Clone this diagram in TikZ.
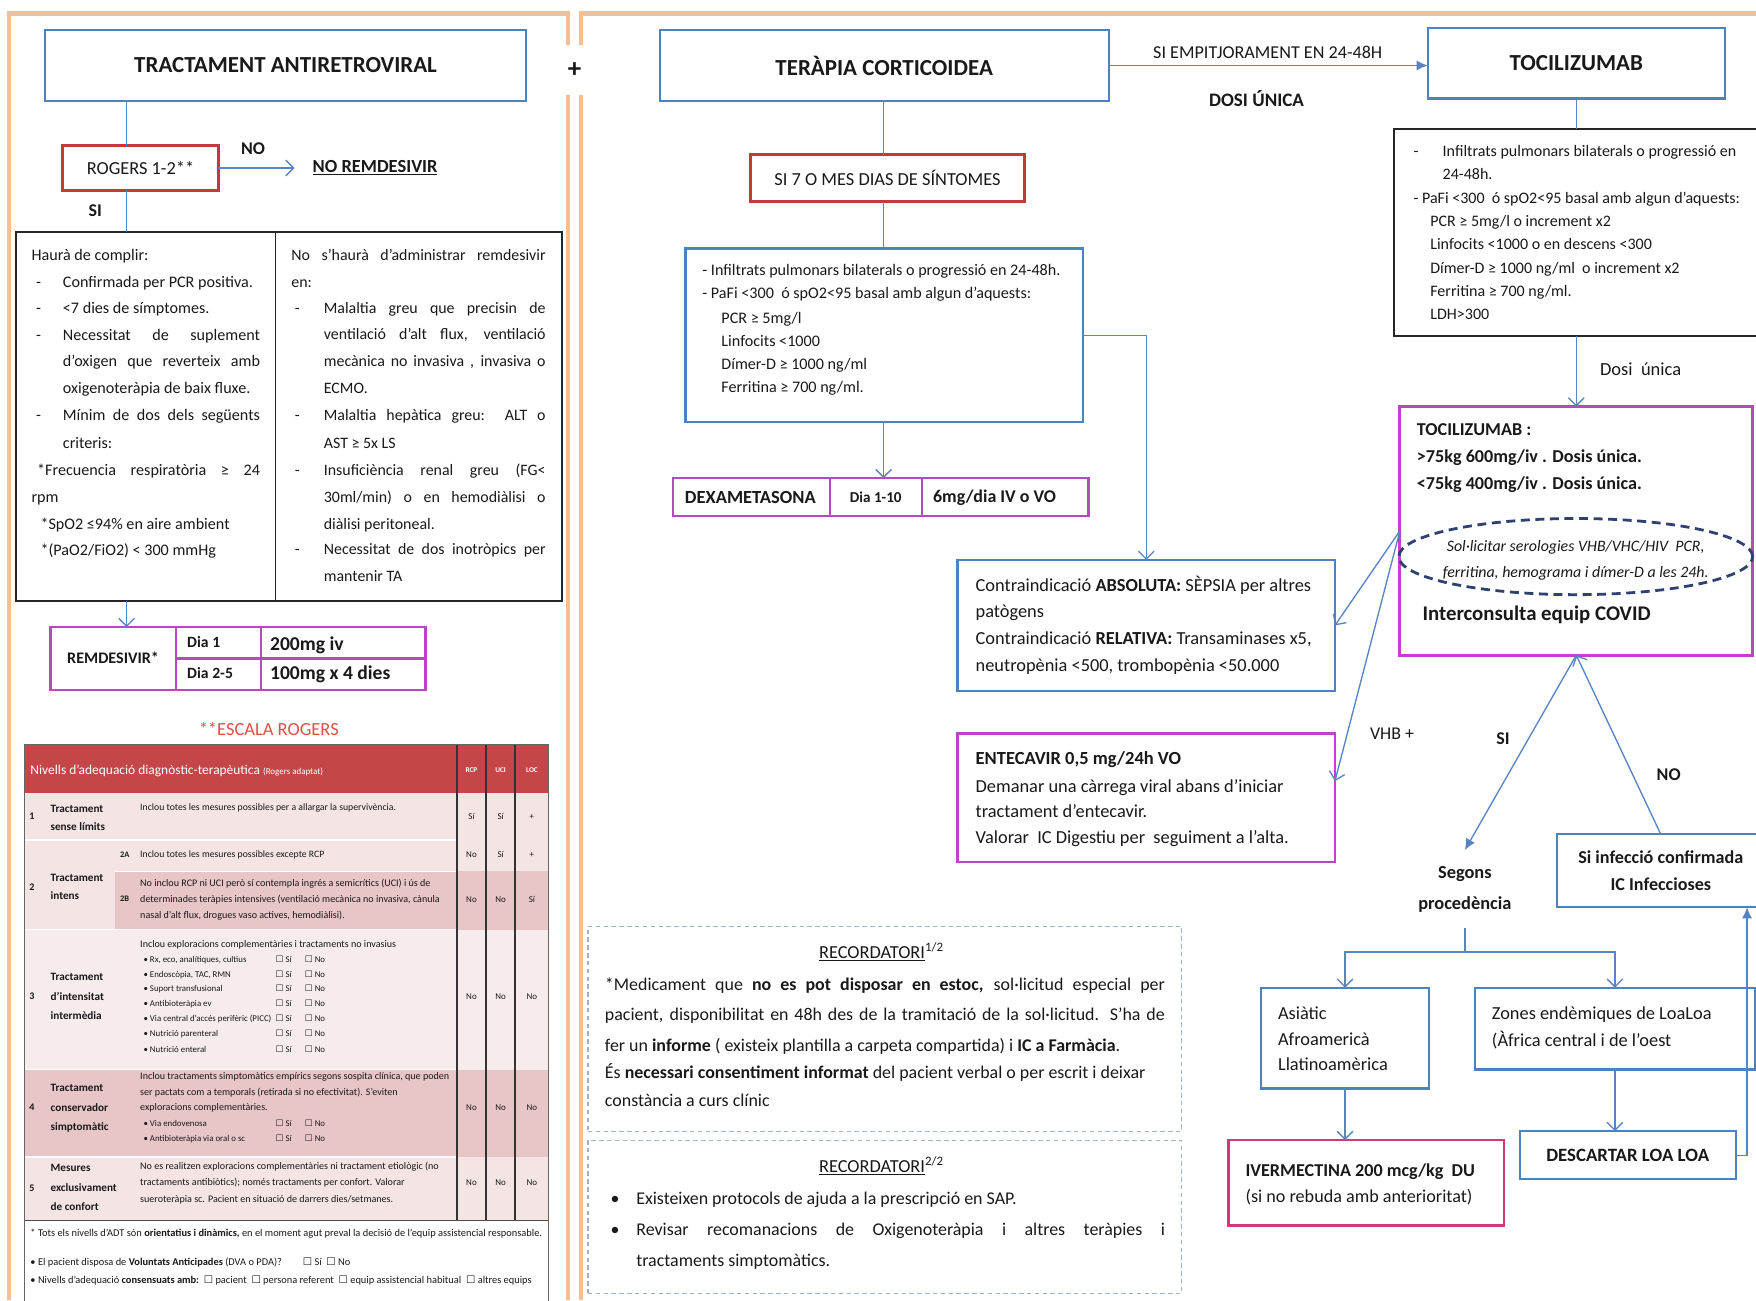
\documentclass[tikz,border=0pt]{standalone}
\usepackage{fontspec}
\setmainfont{Carlito}
\newfontfamily\djv{DejaVu Sans}
\usetikzlibrary{arrows.meta,shapes.geometric,calc}
\definecolor{bblue}{RGB}{79,129,189}
\definecolor{lblue}{RGB}{88,132,196}
\definecolor{rred}{RGB}{192,58,58}
\definecolor{mag}{RGB}{186,70,196}
\definecolor{ivm}{RGB}{205,60,120}
\definecolor{orng}{RGB}{247,190,145}
\definecolor{navy}{RGB}{47,65,110}
\definecolor{hdr}{RGB}{196,70,72}
\definecolor{rowa}{RGB}{244,228,228}
\definecolor{rowb}{RGB}{232,198,200}
\definecolor{rowc}{RGB}{247,236,236}
\definecolor{txtc}{RGB}{25,25,25}
\definecolor{dashgray}{RGB}{165,175,195}
\definecolor{esc}{RGB}{222,80,70}
\newcounter{nn}
\newcommand\TxL[4]{\stepcounter{nn}\node[anchor=base west,inner sep=0,text=txtc,font=\fontsize{#3}{#3}\selectfont] (t\thenn) at (#1,{#2+0.32*#3}) {#4};}
\newcommand\TxC[4]{\stepcounter{nn}\node[anchor=base,inner sep=0,text=txtc,font=\fontsize{#3}{#3}\selectfont] (t\thenn) at (#1,{#2+0.32*#3}) {#4};}
\newcommand\TxJ[5]{\stepcounter{nn}\node[anchor=base west,inner sep=0,text=txtc,font=\fontsize{#3}{#3}\selectfont] (t\thenn) at (#1,{#2+0.32*#3}) {\makebox[#4pt][s]{#5}};}
\newcommand\mkbox[7]{\node[#1, minimum width={#5-#3}, minimum height={#6-#4}] (#2) at (#3,#4) {#7};}
\newcommand\cbx{{\djv ☐}}
\newcommand\SiNo[1]{\TxL{246}{#1}{7.9}{\cbx\ Sí}\TxL{272}{#1}{7.9}{\cbx\ No}}
\tikzset{
 bx/.style={inner sep=0, outer sep=0, anchor=north west, text=txtc, align=center},
 bbox/.style={bx, draw=bblue, line width=2},
 rbox/.style={bx, draw=rred, line width=3},
 mbox/.style={bx, draw=mag, line width=2},
 ibox/.style={bx, draw=ivm, line width=2.5},
 kbox/.style={bx, draw=black!85, line width=1.6},
 dbox/.style={bx, draw=dashgray, line width=1, dash pattern=on 4pt off 3pt},
 conn/.style={draw=lblue, line width=1.2},
 arr/.style={conn, -{Straight Barb[length=7pt,width=14pt]}},
 farr/.style={conn, -{Latex[length=10pt,width=9pt]}},
 ttl/.style={font=\bfseries\fontsize{20.5}{20.5}\selectfont},
 lbl/.style={text=txtc, font=\bfseries\fontsize{16}{16}\selectfont},
}
\begin{document}
\begin{tikzpicture}[x=1pt,y=-1pt]
\useasboundingbox (0,0) rectangle (1568,1161);
\fill[white] (0,0) rectangle (1568,1161);
% orange frames
\draw[orng, line width=4] (8,1161) -- (8,12) -- (507,12) -- (507,40);
\draw[orng, line width=4] (507,85) -- (507,1161);
\draw[orng, line width=4] (519,40) -- (519,12) -- (1568,12);
\draw[orng, line width=4] (519,85) -- (519,1161);
\node[font=\bfseries\fontsize{24}{24}\selectfont, text=txtc] (plus) at (513,63) {+};

% ===== LEFT PANEL =====
\mkbox{bbox,ttl}{tract}{40}{27}{470}{90}{TRACTAMENT ANTIRETROVIRAL}
\mkbox{rbox,font=\fontsize{16.4}{16.4}\selectfont}{rogers}{56}{130}{195}{170}{ROGERS 1-2**}
\node[anchor=west, inner sep=0, text=txtc, font=\bfseries\fontsize{16.5}{16.5}\selectfont] (noremd) at (279,150) {\underline{NO REMDESIVIR}};
\node[lbl] (nolab) at (226,133) {NO};
\node[lbl] (silab) at (85,188) {SI};
\mkbox{kbox}{crit}{14}{207}{502}{537}{}
\coordinate (rs) at (113,0);
\coordinate (dv) at (246,0);
\draw[black!85, line width=1.6] (crit.north -| dv) -- (crit.south -| dv);
\draw[conn] (tract.south -| rs) -- (rogers.north -| rs);
\draw[conn] (rogers.south -| rs) -- (crit.north -| rs);
\draw[arr] (rogers.east) -- ([xshift=-16pt]noremd.west);

% left column
\TxL{28}{228}{14.4}{Haurà de complir:}
\TxL{32}{252}{14.4}{-}\TxL{56}{252}{14.4}{Confirmada per PCR positiva.}
\TxL{32}{275}{14.4}{-}\TxL{56}{275}{14.4}{<7 dies de símptomes.}
\TxL{32}{299}{14.4}{-}\TxJ{56}{299}{14.4}{176}{Necessitat de suplement}
\TxJ{56}{323}{14.4}{176}{d’oxigen que reverteix amb}
\TxL{56}{347}{14.4}{oxigenoteràpia de baix fluxe.}
\TxL{32}{371}{14.4}{-}\TxJ{56}{371}{14.4}{176}{Mínim de dos dels següents}
\TxL{56}{396}{14.4}{criteris:}
\TxJ{33}{420}{14.4}{199}{*Frecuencia respiratòria ≥ 24}
\TxL{28}{444}{14.4}{rpm}
\TxL{36}{468}{14.4}{*SpO2 ≤94\% en aire ambient}
\TxL{36}{491}{14.4}{*(PaO2/FiO2) < 300 mmHg}
% right column
\TxJ{260}{228}{14.2}{227}{No s’haurà d’administrar remdesivir}
\TxL{260}{252}{14.2}{en:}
\TxL{263}{275}{14.2}{-}\TxJ{289}{275}{14.2}{198}{Malaltia greu que precisin de}
\TxJ{289}{299}{14.2}{198}{ventilació d’alt flux, ventilació}
\TxJ{289}{323}{14.2}{198}{mecànica no invasiva , invasiva o}
\TxL{289}{347}{14.2}{ECMO.}
\TxL{263}{371}{14.2}{-}\TxJ{289}{371}{14.2}{198}{Malaltia hepàtica greu:\ \ ALT o}
\TxL{289}{396}{14.2}{AST ≥ 5x LS}
\TxL{263}{420}{14.2}{-}\TxJ{289}{420}{14.2}{198}{Insuficiència renal greu (FG<}
\TxJ{289}{444}{14.2}{198}{30ml/min) o en hemodiàlisi o}
\TxL{289}{468}{14.2}{diàlisi peritoneal.}
\TxL{263}{491}{14.2}{-}\TxJ{289}{491}{14.2}{198}{Necessitat de dos inotròpics per}
\TxL{289}{515}{14.2}{mantenir TA}

% remdesivir table
\mkbox{mbox}{remd}{45}{560}{380}{616}{}
\draw[arr] (crit.south -| rs) -- (remd.north -| rs);
\draw[mag, line width=2] (157,560) -- (157,616) (233,560) -- (233,616) (157,588) -- (380,588);
\TxC{101}{588}{14.4}{\bfseries REMDESIVIR*}
\TxL{167}{574}{14}{\bfseries Dia 1}
\TxL{167}{601}{14}{\bfseries Dia 2-5}
\TxL{241}{575}{17.5}{\bfseries 200mg iv}
\TxL{241}{601}{17.5}{\bfseries 100mg x 4 dies}
\node[text=esc, font=\fontsize{16.5}{16.5}\selectfont] (escala) at (240,651) {**ESCALA ROGERS};

% Rogers table
\fill[hdr] (22,665) rectangle (490,708);
\fill[rowa] (22,708) rectangle (490,750);
\fill[rowa] (22,750) rectangle (490,778);
\fill[rowa] (22,778) rectangle (103,830);
\fill[rowb] (103,778) rectangle (490,830);
\fill[rowc] (22,830) rectangle (490,955);
\fill[rowb] (22,955) rectangle (490,1033);
\fill[rowa] (22,1033) rectangle (490,1090);
\draw[white, line width=1.2] (22,750) -- (408,750) (103,778) -- (408,778) (22,830) -- (408,830) (22,955) -- (408,955) (22,1033) -- (408,1033);
\draw[black!80, line width=1.6] (408,665) -- (408,1090) (434,665) -- (434,1090) (460,665) -- (460,1090);
\draw[black!70, line width=1] (22,1090) -- (490,1090);
\draw[black!60, line width=0.9] (22,665) rectangle (490,1180);
\node[anchor=base west, inner sep=0, text=white, font=\fontsize{12}{12}\selectfont] (hdrt) at (27,692) {Nivells d’adequació diagnòstic-terapèutica {\fontsize{8}{8}\selectfont (Rogers adaptat)}};
\node[text=white, font=\bfseries\fontsize{6.5}{6.5}\selectfont] (hrcp) at (421,688) {RCP};
\node[text=white, font=\bfseries\fontsize{6.5}{6.5}\selectfont] (huci) at (447,688) {UCI};
\node[text=white, font=\bfseries\fontsize{6.5}{6.5}\selectfont] (hloc) at (475,688) {LOC};
% row 1
\TxL{26}{729}{9}{\bfseries 1}
\TxL{45}{722}{10}{\bfseries Tractament}\TxL{45}{738}{10}{\bfseries sense límits}
\TxL{125}{721}{8.7}{Inclou totes les mesures possibles per a allargar la supervivència.}
\TxC{421}{729}{8}{Sí}\TxC{447}{729}{8}{Sí}\TxC{475}{729}{8}{+}
% row 2
\TxL{26}{792}{9}{\bfseries 2}
\TxL{45}{784}{10}{\bfseries Tractament}\TxL{45}{800}{10}{\bfseries intens}
\TxL{107}{763}{7.5}{\bfseries 2A}\TxL{125}{763}{8.7}{Inclou totes les mesures possibles excepte RCP}
\TxC{421}{763}{8}{No}\TxC{447}{763}{8}{Sí}\TxC{475}{763}{8}{+}
\TxL{107}{803}{7.5}{\bfseries 2B}
\TxL{125}{789}{9}{No inclou RCP ni UCI però sí contempla ingrés a semicrítics (UCI) i ús de}
\TxL{125}{803}{9}{determinades teràpies intensives (ventilació mecànica no invasiva, cànula}
\TxL{125}{817}{9}{nasal d’alt flux, drogues vaso actives, hemodiàlisi).}
\TxC{421}{803}{8}{No}\TxC{447}{803}{8}{No}\TxC{475}{803}{8}{Sí}
% row 3
\TxL{26}{890}{9}{\bfseries 3}
\TxL{45}{872}{10}{\bfseries Tractament}\TxL{45}{890}{10}{\bfseries d’intensitat}\TxL{45}{907}{10}{\bfseries intermèdia}
\TxL{125}{843}{9}{Inclou exploracions complementàries i tractaments no invasius}
\TxL{128}{857}{7.9}{• Rx, eco, analítiques, cultius}\SiNo{857}
\TxL{128}{870}{7.9}{• Endoscòpia, TAC, RMN}\SiNo{870}
\TxL{128}{883}{7.9}{• Suport transfusional}\SiNo{883}
\TxL{128}{896}{7.9}{• Antibioteràpia ev}\SiNo{896}
\TxL{128}{910}{7.9}{• Via central d’accés perifèric (PICC)}\SiNo{910}
\TxL{128}{923}{7.9}{• Nutrició parenteral}\SiNo{923}
\TxL{128}{937}{7.9}{• Nutrició enteral}\SiNo{937}
\TxC{421}{890}{8}{No}\TxC{447}{890}{8}{No}\TxC{475}{890}{8}{No}
% row 4
\TxL{26}{989}{9}{\bfseries 4}
\TxL{45}{971}{10}{\bfseries Tractament}\TxL{45}{989}{10}{\bfseries conservador}\TxL{45}{1006}{10}{\bfseries simptomàtic}
\TxL{125}{961}{9}{Inclou tractaments simptomàtics empírics segons sospita clínica, que poden}
\TxL{125}{975}{9}{ser pactats com a temporals (retirada si no efectivitat). S’eviten}
\TxL{125}{989}{9}{exploracions complementàries.}
\TxL{128}{1003}{7.9}{• Via endovenosa}\SiNo{1003}
\TxL{128}{1017}{7.9}{• Antibioteràpia via oral o sc}\SiNo{1017}
\TxC{421}{989}{8}{No}\TxC{447}{989}{8}{No}\TxC{475}{989}{8}{No}
% row 5
\TxL{26}{1061}{9}{\bfseries 5}
\TxL{45}{1043}{10}{\bfseries Mesures}\TxL{45}{1061}{10}{\bfseries exclusivament}\TxL{45}{1078}{10}{\bfseries de confort}
\TxL{125}{1041}{9}{No es realitzen exploracions complementàries ni tractament etiològic (no}
\TxL{125}{1056}{9}{tractaments antibiòtics); només tractaments per confort. Valorar}
\TxL{125}{1071}{9}{sueroteràpia sc. Pacient en situació de darrers dies/setmanes.}
\TxC{421}{1056}{8}{No}\TxC{447}{1056}{8}{No}\TxC{475}{1056}{8}{No}
% footer
\TxL{27}{1101}{9.3}{* Tots els nivells d’ADT són \textbf{orientatius i dinàmics,} en el moment agut preval la decisió de l’equip assistencial responsable.}
\TxL{27}{1127}{9.3}{• El pacient disposa de \textbf{Voluntats Anticipades} (DVA o PDA)?\qquad\cbx\ Sí\ \ \cbx\ No}
\TxL{27}{1143}{9.3}{• Nivells d’adequació \textbf{consensuats amb:}\ \ \cbx\ pacient\ \ \cbx\ persona referent\ \ \cbx\ equip assistencial habitual\ \ \cbx\ altres equips}

% ===== RIGHT PANEL =====
\mkbox{bbox,ttl}{cort}{589}{27}{990}{90}{TERÀPIA CORTICOIDEA}
\mkbox{bbox,ttl}{toci}{1275}{25}{1540}{88}{TOCILIZUMAB}
\draw[farr] (cort.east) -- (cort.east -| toci.west);
\node[text=txtc, font=\fontsize{16.2}{16.2}\selectfont] (empit) at (1132,47) {SI EMPITJORAMENT EN 24-48H};
\node[text=txtc, font=\bfseries\fontsize{17}{17}\selectfont] (dosiu) at (1122,88) {DOSI ÚNICA};

\coordinate (cx) at (789,0);
\mkbox{rbox,font=\fontsize{16.4}{16.4}\selectfont}{si7}{670}{138}{915}{180}{SI 7 O MES DIAS DE SÍNTOMES}
\draw[conn] (cort.south -| cx) -- (si7.north -| cx);
\mkbox{bbox}{inf1}{612}{222}{967}{377}{}
\draw[conn] (si7.south -| cx) -- (inf1.north -| cx);
\TxL{627}{241}{14.4}{- Infiltrats pulmonars bilaterals o progressió en 24-48h.}
\TxL{627}{262}{14.4}{- PaFi <300\ \ ó spO2<95 basal amb algun d’aquests:}
\TxL{644}{284}{14.4}{PCR ≥ 5mg/l}
\TxL{644}{305}{14.4}{Linfocits <1000}
\TxL{644}{325}{14.4}{Dímer-D ≥ 1000 ng/ml}
\TxL{644}{346}{14.4}{Ferritina ≥ 700 ng/ml.}

\mkbox{mbox}{dexa}{601}{427}{972}{461}{}
\draw[arr] (inf1.south -| cx) -- (dexa.north -| cx);
\draw[mag, line width=2] (741,427) -- (741,461) (823,427) -- (823,461);
\TxC{670}{444}{16.5}{\bfseries DEXAMETASONA}
\TxC{782}{444}{13.5}{\bfseries Dia 1-10}
\TxC{888}{444}{16}{\bfseries 6mg/dia IV o VO}

\mkbox{bbox}{contra}{855}{500}{1192}{617}{}
\draw[arr] (inf1.east) -| (contra.north);
\TxL{871}{523}{16.4}{Contraindicació \textbf{ABSOLUTA:} SÈPSIA per altres}
\TxL{871}{546}{16.4}{patògens}
\TxL{871}{570}{16.4}{Contraindicació \textbf{RELATIVA:} Transaminases x5,}
\TxL{871}{594}{16.4}{neutropènia <500, trombopènia <50.000}

\mkbox{mbox}{ente}{855}{655}{1192}{770}{}
\TxL{871}{677}{16.5}{\bfseries ENTECAVIR 0,5 mg/24h VO}
\TxL{871}{702}{16.4}{Demanar una càrrega viral abans d’iniciar}
\TxL{871}{725}{16.4}{tractament d’entecavir.}
\TxL{871}{748}{16.4}{Valorar\ \ IC Digestiu per\ \ seguiment a l’alta.}

\mkbox{kbox}{tc}{1245}{115}{1580}{300}{}
\draw[conn] (toci.south) -- (tc.north -| toci.south);
\TxL{1262}{135}{14.3}{-}\TxL{1288}{135}{14.3}{Infiltrats pulmonars bilaterals o progressió en}
\TxL{1288}{156}{14.3}{24-48h.}
\TxL{1262}{177}{14.3}{- PaFi <300\ \ ó spO2<95 basal amb algun d’aquests:}
\TxL{1277}{198}{14.3}{PCR ≥ 5mg/l o increment x2}
\TxL{1277}{218}{14.3}{Linfocits <1000 o en descens <300}
\TxL{1277}{240}{14.3}{Dímer-D ≥ 1000 ng/ml\ \ o increment x2}
\TxL{1277}{260}{14.3}{Ferritina ≥ 700 ng/ml.}
\TxL{1277}{281}{14.3}{LDH>300}

\mkbox{mbox,line width=2.8}{dose}{1250}{363}{1565}{585}{}
\draw[arr] (tc.south -| toci.south) -- (dose.north -| toci.south);
\node[text=txtc, font=\fontsize{16.5}{16.5}\selectfont] (dosiu2) at (1465,330) {Dosi\ \ única};
\TxL{1265}{384}{16.2}{\bfseries TOCILIZUMAB :}
\TxL{1265}{408}{16.2}{\bfseries >75kg 600mg/iv . Dosis única.}
\TxL{1265}{432}{16.2}{\bfseries <75kg 400mg/iv . Dosis única.}
\node[ellipse, draw=navy, line width=2.5, dash pattern=on 8pt off 5pt, minimum width=316, minimum height=68, inner sep=0] (ell) at (1407,497) {};
\TxC{1407}{488}{14.2}{\itshape Sol·licitar serologies VHB/VHC/HIV\ \ PCR,}
\TxC{1407}{511}{14.2}{\itshape ferritina, hemograma i dímer-D a les 24h.}
\TxL{1270}{548}{18.6}{\bfseries Interconsulta equip COVID}

\draw[arr] (dose.west) -- (contra.east);
\draw[arr] (dose.west) -- ($(ente.north east)!0.37!(ente.south east)$);
\node[text=txtc, font=\fontsize{16}{16}\selectfont] (vhb) at (1243,655) {VHB +};

\node[text=txtc, align=center, font=\bfseries\fontsize{16.4}{28}\selectfont, inner xsep=2, inner ysep=14] (seg) at (1308,794) {Segons\\procedència};
\draw[farr] (dose.south) -- (seg.north);
\node[lbl] (silab2) at (1342,660) {SI};
\node[lbl] (nolab2) at (1490,692) {NO};
\mkbox{bbox,font=\bfseries\fontsize{16.2}{24}\selectfont}{infc}{1390}{745}{1576}{810}{Si infecció confirmada\\IC Infeccioses}
\draw[arr] (infc.north) -- (dose.south);

\coordinate (split) at (1308,850);
\mkbox{bbox}{asi}{1126}{882}{1276}{972}{}
\mkbox{bbox}{zon}{1317}{882}{1567}{955}{}
\draw[conn] (seg.south) -- (split);
\draw[arr] (split) -| (asi.north);
\draw[arr] (split) -| (zon.north);
\TxL{1141}{905}{16.4}{Asiàtic}
\TxL{1141}{928}{16.4}{Afroamericà}
\TxL{1141}{951}{16.4}{Llatinoamèrica}
\TxL{1332}{905}{16.4}{Zones endèmiques de LoaLoa}
\TxL{1332}{929}{16.4}{(Àfrica central i de l’oest}

\mkbox{ibox}{ivm}{1097}{1018}{1343}{1094}{}
\draw[arr] (asi.south) -- (ivm.north -| asi.south);
\TxL{1112}{1045}{16.2}{\bfseries IVERMECTINA 200 mcg/kg\ \ DU}
\TxL{1112}{1069}{16.2}{(si no rebuda amb anterioritat)}

\mkbox{bbox,font=\bfseries\fontsize{16.8}{16.8}\selectfont}{desc}{1357}{1010}{1550}{1053}{DESCARTAR LOA LOA}
\draw[arr] (zon.south) -- (desc.north -| zon.south);
\coordinate (rc) at (1560,0);
\draw[farr] (desc.east) -| (infc.south -| rc);

% recordatori
\mkbox{dbox}{rec1}{525}{827}{1055}{1010}{}
\mkbox{dbox}{rec2}{525}{1018}{1055}{1155}{}
\TxC{787}{851}{16.4}{\underline{RECORDATORI}\textsuperscript{1/2}}
\TxJ{540}{879}{16}{500}{*Medicament que \textbf{no es pot disposar en estoc,} sol·licitud especial per}
\TxJ{540}{906}{16}{500}{pacient, disponibilitat en 48h des de la tramitació de la sol·licitud. S’ha de}
\TxL{540}{934}{16}{fer un \textbf{informe} ( existeix plantilla a carpeta compartida) i \textbf{IC a Farmàcia}.}
\TxL{540}{958}{16}{És \textbf{necessari consentiment informat} del pacient verbal o per escrit i deixar}
\TxL{540}{983}{16}{constància a curs clínic}
\TxC{787}{1042}{16.4}{\underline{RECORDATORI}\textsuperscript{2/2}}
\TxL{545}{1070}{16}{•}\TxL{568}{1070}{16}{Existeixen protocols de ajuda a la prescripció en SAP.}
\TxL{545}{1098}{16}{•}\TxJ{568}{1098}{16}{472}{Revisar recomanacions de Oxigenoteràpia i altres teràpies i}
\TxL{568}{1126}{16}{tractaments simptomàtics.}
\end{tikzpicture}
\end{document}
